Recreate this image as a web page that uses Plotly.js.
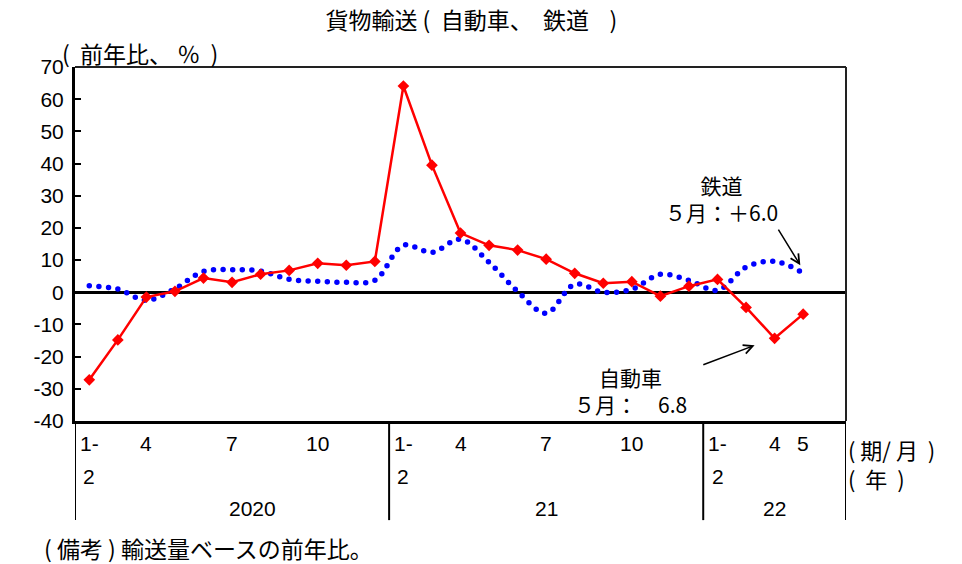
<!DOCTYPE html>
<html>
<head>
<meta charset="utf-8">
<script src="https://cdn.plot.ly/plotly-3.0.1.min.js"></script>
<style>
html,body{margin:0;padding:0;background:#fff;}
#chart{width:962px;height:564px;}
</style>
</head>
<body>
<div id="chart"></div>
<script>
// Periods (2020/1-2 ... 2022/5)
const periods = ["2020/1-2","2020/3","2020/4","2020/5","2020/6","2020/7","2020/8","2020/9","2020/10","2020/11","2020/12",
                 "2021/1-2","2021/3","2021/4","2021/5","2021/6","2021/7","2021/8","2021/9","2021/10","2021/11","2021/12",
                 "2022/1-2","2022/3","2022/4","2022/5"];
// Tick label rows
const tickRow1 = ["1-","","4","","","7","","","10","","", "1-","","4","","","7","","","10","","", "1-","","4","5"];
const tickRow2 = ["2","","","","","","","","","","", "2","","","","","","","","","","", "2","","",""];
const yearLabels = ["2020","21","22"];
const yTickVals = [-40,-30,-20,-10,0,10,20,30,40,50,60,70];
const yTickText = ["-40","-30","-20","-10","0","10","20","30","40","50","60","70"];
// 自動車 (truck) y/y %
const truck = [-27.2,-14.8,-1.5,0.3,4.4,3.1,5.6,6.8,9.0,8.4,9.6,
               64.1,39.5,18.4,14.6,13.1,10.3,5.9,2.8,3.3,-1.2,1.9,
               4.0,-4.7,-14.3,-6.8];
// 鉄道 (rail) y/y %
const rail = [2.0,1.0,-2.5,1.1,6.5,7.0,6.6,4.0,3.4,3.1,3.7,
              14.6,12.4,16.5,9.3,0.3,-6.5,2.5,0.0,0.9,5.6,3.7,
              0.6,7.8,9.6,6.0];

const xIdx = periods.map((_, i) => i);
const numFont = "Liberation Sans, Arial, sans-serif";
const jpFont = "Noto Sans CJK JP, sans-serif";
const NB = "\u00a0";

const traces = [
  {x: xIdx, y: rail, type: "scatter", mode: "lines", name: "鉄道",
   line: {color: "#0000FF", width: 5.5, dash: "0px,9.6px", shape: "spline", smoothing: 1}},
  {x: xIdx, y: truck, type: "scatter", mode: "lines+markers", name: "自動車",
   line: {color: "#FF0000", width: 2.5},
   marker: {symbol: "diamond", size: 9, color: "#FF0000"}}
];

const annotations = [];
const row1Shift = -22, row2Shift = -55, yearShift = -87;
tickRow1.forEach((t, i) => { if (t) annotations.push({x: i, y: 0, xref: "x", yref: "paper", text: t, showarrow: false,
  yshift: row1Shift, xanchor: "center", yanchor: "middle", font: {family: numFont, size: 21, color: "#000"}}); });
tickRow2.forEach((t, i) => { if (t) annotations.push({x: i, y: 0, xref: "x", yref: "paper", text: t, showarrow: false,
  yshift: row2Shift, xanchor: "center", yanchor: "middle", font: {family: numFont, size: 21, color: "#000"}}); });
const yearPos = [5.7, 16, 24];
yearLabels.forEach((t, k) => annotations.push({x: yearPos[k], y: 0, xref: "x", yref: "paper", text: t, showarrow: false,
  yshift: yearShift, xanchor: "center", yanchor: "middle", font: {family: numFont, size: 21, color: "#000"}}));

annotations.push(
  {x: 1, y: 0, xref: "paper", yref: "paper", text: "(" + NB + "期/" + NB + "月" + NB + NB + ")", showarrow: false,
   xanchor: "left", yanchor: "middle", xshift: 0, yshift: -28, font: {family: jpFont, size: 22, color: "#000"}},
  {x: 1, y: 0, xref: "paper", yref: "paper", text: "(" + NB + NB + "年" + NB + NB + ")", showarrow: false,
   xanchor: "left", yanchor: "middle", xshift: 0, yshift: -57, font: {family: jpFont, size: 22, color: "#000"}},
  {x: 0, y: 1, xref: "paper", yref: "paper", text: "(" + NB + NB + "前年比、" + NB + "％" + NB + NB + ")", showarrow: false,
   xanchor: "left", yanchor: "middle", xshift: -15, yshift: 14, font: {family: jpFont, size: 23, color: "#000"}},
  {x: 0, y: 0, xref: "paper", yref: "paper", text: "(" + NB + "備考" + NB + ")" + NB + "輸送量ベースの前年比。", showarrow: false,
   xanchor: "left", yanchor: "middle", xshift: -33, yshift: -127, font: {family: jpFont, size: 23, color: "#000"}},
  // 鉄道 label
  {x: 22.15, y: 29.1, xref: "x", yref: "y", text: "鉄道<br>５月：＋6.0", showarrow: false, xanchor: "center", yanchor: "middle",
   align: "center", font: {family: jpFont, size: 21, color: "#000"}},
  {x: 24.9, y: 8.4, ax: 24.1, ay: 19.9, xref: "x", yref: "y", axref: "x", ayref: "y", text: "", showarrow: true,
   arrowhead: 5, arrowsize: 1.2, arrowwidth: 1.5, arrowcolor: "#000"},
  // 自動車 label
  {x: 18.97, y: -30.5, xref: "x", yref: "y", text: "自動車<br>５月：　6.8", showarrow: false, xanchor: "center", yanchor: "middle",
   align: "center", font: {family: jpFont, size: 21, color: "#000"}},
  {x: 23.3, y: -16.5, ax: 21.45, ay: -22.7, xref: "x", yref: "y", axref: "x", ayref: "y", text: "", showarrow: true,
   arrowhead: 5, arrowsize: 1.2, arrowwidth: 1.5, arrowcolor: "#000"}
);

const shapes = [];
// group dividers below the plot
[-0.5, 10.5, 21.5, 26.5].forEach(xv => shapes.push({type: "line", xref: "x", yref: "paper", x0: xv, x1: xv,
  y0: 0, y1: -0.28, line: {color: "#000", width: 2}}));
// outer frame top/right
shapes.push({type: "line", xref: "paper", yref: "paper", x0: 0, x1: 1, y0: 1, y1: 1, line: {color: "#222", width: 2}});
shapes.push({type: "line", xref: "paper", yref: "paper", x0: 1, x1: 1, y0: 0, y1: 1, line: {color: "#222", width: 2}});

const layout = {
  width: 962, height: 564,
  margin: {l: 75, r: 116, t: 67, b: 143},
  paper_bgcolor: "#fff", plot_bgcolor: "#fff",
  showlegend: false,
  title: {text: "貨物輸送" + NB + "(" + NB + NB + "自動車、" + NB + NB + "鉄道" + NB + NB + NB + NB + ")",
          x: 0.49, xanchor: "center", y: 0.963, yanchor: "middle",
          font: {family: jpFont, size: 23, color: "#000"}},
  xaxis: {range: [-0.5, 26.5], showgrid: false, zeroline: false, showticklabels: false, ticks: "",
          showline: true, linecolor: "#000", linewidth: 3, fixedrange: true},
  yaxis: {range: [-40, 70], tickmode: "array", tickvals: yTickVals, ticktext: yTickText,
          showgrid: false, zeroline: true, zerolinecolor: "#000", zerolinewidth: 2.5,
          ticks: "inside", ticklen: 6, tickwidth: 2, tickcolor: "#000", showline: true, linecolor: "#000", linewidth: 3,
          ticklabelstandoff: 4,
          tickfont: {family: numFont, size: 21, color: "#000"}, fixedrange: true},
  annotations: annotations,
  shapes: shapes
};

Plotly.newPlot("chart", traces, layout, {staticPlot: true, displayModeBar: false}).then(() => {
  document.querySelectorAll(".scatterlayer .trace").forEach((tr, i) => {
    if (i === 0) tr.querySelectorAll("path.js-line").forEach(p => p.style.strokeLinecap = "round");
  });
});
</script>
</body>
</html>
